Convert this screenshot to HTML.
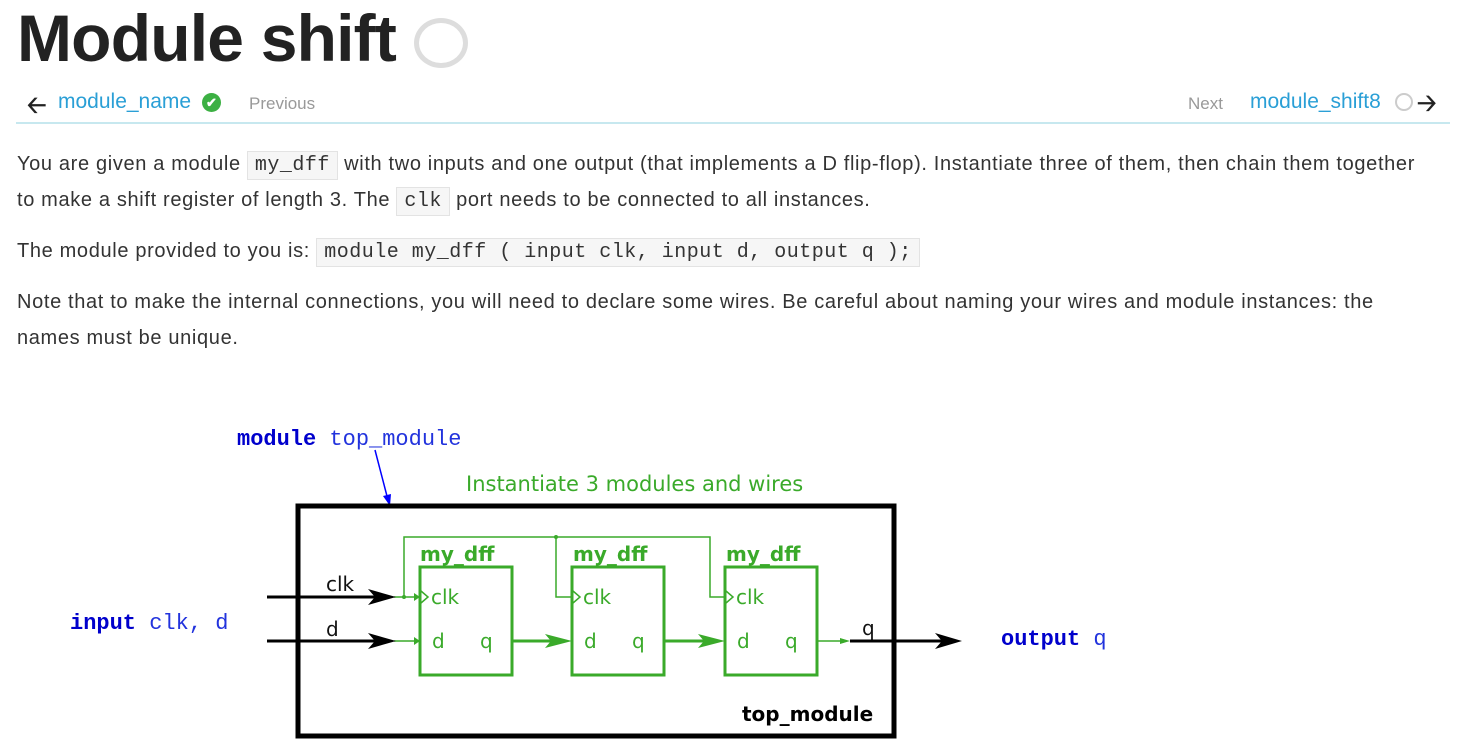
<!DOCTYPE html>
<html><head><meta charset="utf-8"><style>
body{margin:0;width:1458px;height:751px;background:#fff;position:relative;overflow:hidden;font-family:"Liberation Sans",sans-serif;color:#333}
.a{position:absolute;white-space:nowrap}
.t{font-size:20px;letter-spacing:0.65px}
code{font-family:"Liberation Mono",monospace;font-size:20px;background:#f6f6f6;border:1px solid #e3e3e3;padding:2px 7px;color:#333;letter-spacing:0.5px}
.lnk{color:#2a9fd6;font-size:21px}
.gr{color:#999;font-size:17px}
</style></head><body>
<div class="a" style="left:17px;top:0px;font-size:66px;font-weight:bold;color:#222;letter-spacing:-0.8px">Module shift</div>
<div class="a" style="left:414px;top:18px;width:54px;height:50px;border:5px solid #ddd;border-radius:50%;box-sizing:border-box"></div>
<div class="a" style="left:27px;top:88px;font-size:24px;font-weight:bold;color:#222">&#129120;</div>
<div class="a lnk" style="left:58px;top:90px">module_name</div>
<div class="a" style="left:202px;top:93px;width:19px;height:19px;border-radius:50%;background:#3cb043;color:#fff;font-size:13px;text-align:center;line-height:19px;font-weight:bold">✔</div>
<div class="a gr" style="left:249px;top:94px">Previous</div>
<div class="a gr" style="left:1188px;top:94px">Next</div>
<div class="a lnk" style="left:1250px;top:90px">module_shift8</div>
<div class="a" style="left:1395px;top:93px;width:18px;height:18px;border:2px solid #ccc;border-radius:50%;box-sizing:border-box"></div>
<div class="a" style="left:1417px;top:86px;font-size:24px;font-weight:bold;color:#222">&#129122;</div>
<div class="a" style="left:16px;top:122px;width:1434px;height:2px;background:#c7e8ef"></div>

<div class="a t" style="left:17px;top:153px">You are given a module <code>my_dff</code> with two inputs and one output (that implements a D flip-flop). Instantiate three of them, then chain them together</div>
<div class="a t" style="left:17px;top:189px">to make a shift register of length 3. The <code>clk</code> port needs to be connected to all instances.</div>
<div class="a t" style="left:17px;top:240px">The module provided to you is: <code>module my_dff ( input clk, input d, output q );</code></div>
<div class="a t" style="left:17px;top:291px">Note that to make the internal connections, you will need to declare some wires. Be careful about naming your wires and module instances: the</div>
<div class="a t" style="left:17px;top:327px">names must be unique.</div>

<svg class="a" style="left:0;top:0" width="1458" height="751" xmlns="http://www.w3.org/2000/svg">
<g font-family="Liberation Mono,monospace" font-size="22" font-weight="bold">
<text x="237" y="445" fill="#00c">module <tspan font-weight="normal" fill="#2233dd">top_module</tspan></text>
<text x="70" y="629" fill="#00c">input <tspan font-weight="normal" fill="#2233dd">clk, d</tspan></text>
<text x="1001" y="645" fill="#00c">output <tspan font-weight="normal" fill="#2233dd">q</tspan></text>
</g>
<text x="466" y="491" fill="#3aaa2a" font-size="21" font-family="DejaVu Sans,sans-serif">Instantiate 3 modules and wires</text>
<line x1="375" y1="450" x2="388" y2="500" stroke="#00f" stroke-width="1.5"/>
<path d="M383 496 L390 506 L391 494Z" fill="#00f"/>
<rect x="298" y="506" width="596" height="230" fill="none" stroke="#000" stroke-width="5"/>
<text x="742" y="721" font-size="20" font-weight="bold" font-family="DejaVu Sans,sans-serif">top_module</text>
<g stroke="#3aaa2a" fill="none">
<rect x="420" y="567" width="92" height="108" stroke-width="3"/>
<rect x="572" y="567" width="92" height="108" stroke-width="3"/>
<rect x="725" y="567" width="92" height="108" stroke-width="3"/>
<polyline points="404,597 404,537 710,537 710,597 725,597" stroke-width="1.5"/>
<polyline points="556,537 556,597 572,597" stroke-width="1.5"/>
<line x1="394" y1="597" x2="414" y2="597" stroke-width="1.5"/>
<line x1="394" y1="641" x2="414" y2="641" stroke-width="1.5"/>
<polyline points="421,591 428,597 421,603" stroke-width="1.5"/>
<polyline points="573,591 580,597 573,603" stroke-width="1.5"/>
<polyline points="726,591 733,597 726,603" stroke-width="1.5"/>
<line x1="512" y1="641" x2="555" y2="641" stroke-width="3"/>
<line x1="664" y1="641" x2="708" y2="641" stroke-width="3"/>
<line x1="817" y1="641" x2="842" y2="641" stroke-width="1.5"/>
</g>
<g fill="#3aaa2a">
<circle cx="404" cy="597" r="2"/><circle cx="556" cy="537" r="2"/>
<path d="M414 593 L420 597 L414 601Z"/><path d="M414 637 L420 641 L414 645Z"/>
<path d="M545 634 L572 641 L545 648 L551 641Z"/>
<path d="M698 634 L725 641 L698 648 L704 641Z"/>
<path d="M840 638 L850 641 L840 644Z"/>
</g>
<g font-family="DejaVu Sans,sans-serif" font-size="20" fill="#3aaa2a">
<text x="420" y="561" font-weight="bold">my_dff</text>
<text x="573" y="561" font-weight="bold">my_dff</text>
<text x="726" y="561" font-weight="bold">my_dff</text>
<text x="431" y="604">clk</text><text x="583" y="604">clk</text><text x="736" y="604">clk</text>
<text x="432" y="648">d</text><text x="480" y="648">q</text>
<text x="584" y="648">d</text><text x="632" y="648">q</text>
<text x="737" y="648">d</text><text x="785" y="648">q</text>
</g>
<g stroke="#000" stroke-width="3">
<line x1="267" y1="597" x2="385" y2="597"/>
<line x1="267" y1="641" x2="385" y2="641"/>
<line x1="850" y1="641" x2="945" y2="641"/>
</g>
<g fill="#000">
<path d="M368 589 L396 597 L368 605 L375 597Z"/>
<path d="M368 633 L396 641 L368 649 L375 641Z"/>
<path d="M935 633 L962 641 L935 649 L942 641Z"/>
</g>
<g font-family="DejaVu Sans,sans-serif" font-size="20" fill="#111">
<text x="326" y="591">clk</text><text x="326" y="636">d</text><text x="862" y="635">q</text>
</g>
</svg>
</body></html>
